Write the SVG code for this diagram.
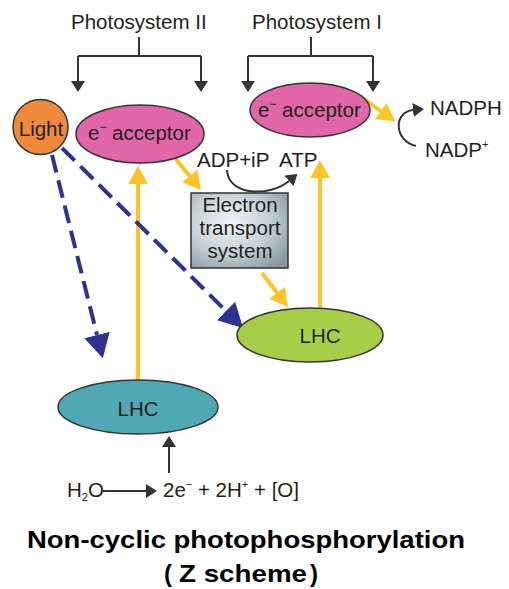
<svg xmlns="http://www.w3.org/2000/svg" width="509" height="589" viewBox="0 0 509 589">
<style>
text{font-family:"Liberation Sans",Arial,sans-serif;fill:#231F20;}
.lbl{font-size:20.5px;}
.mid{text-anchor:middle;}
.title{font-size:24px;font-weight:bold;fill:#000;}
.blk{stroke:#333;stroke-width:2;fill:none;}
.yel{stroke:#FFC425;stroke-width:4;fill:none;}
.blu{stroke:#2E3192;stroke-width:4;fill:none;stroke-dasharray:18 8;}
.node{stroke:#333;stroke-width:1.5;}
</style>
<defs>
<marker id="mk" markerUnits="userSpaceOnUse" markerWidth="12" markerHeight="14" refX="0" refY="7" orient="auto"><path d="M0,0 L11,7 L0,14 z" fill="#333"/></marker>
<marker id="my" markerUnits="userSpaceOnUse" markerWidth="19" markerHeight="20" refX="0" refY="10" orient="auto"><path d="M0,0 L18,10 L0,20 z" fill="#FFC425"/></marker>
<marker id="mb" markerUnits="userSpaceOnUse" markerWidth="25" markerHeight="26" refX="0" refY="13" orient="auto"><path d="M0,0 L24,13 L0,26 z" fill="#2E3192"/></marker>
<radialGradient id="ets" cx="0.4" cy="0.4" r="0.75"><stop offset="0" stop-color="#F2F5F7"/><stop offset="0.55" stop-color="#C4CFD5"/><stop offset="1" stop-color="#8797A1"/></radialGradient>
</defs>

<g id="connectors">
<path class="blk" d="M139,37 V56 M78,56 H201 M78,56 V81 M201,56 V81" />
<path class="blk" d="M78,70 V81" marker-end="url(#mk)"/>
<path class="blk" d="M201,70 V81" marker-end="url(#mk)"/>
<path class="blk" d="M311,37 V56 M248,56 H373 M248,56 V81 M373,56 V81"/>
<path class="blk" d="M248,70 V81" marker-end="url(#mk)"/>
<path class="blk" d="M373,70 V81" marker-end="url(#mk)"/>
<path class="yel" d="M138,380 V184" marker-end="url(#my)"/>
<path class="yel" d="M320,308 V178" marker-end="url(#my)"/>
<path class="yel" d="M175,158 L189.6,176" marker-end="url(#my)"/>
<path class="yel" d="M262,273 L277,292.7" marker-end="url(#my)"/>
<path class="yel" d="M360,96 L380.7,111" marker-end="url(#my)"/>
<path class="blu" d="M52,155 L97,335" marker-end="url(#mb)"/>
<path class="blu" d="M62,148 L226,311" marker-end="url(#mb)"/>
<path class="blk" d="M227,170 C228,196 270,197 289,181" marker-end="url(#mk)"/>
<path class="blk" d="M416,146 C394,141 393,112 413,110" marker-end="url(#mk)"/>
<path class="blk" d="M169,473 V447" marker-end="url(#mk)"/>
<path class="blk" d="M103,491 H146" marker-end="url(#mk)"/>
</g>

<g id="light">
<circle cx="40.5" cy="127" r="27.5" fill="#EE8A3C" class="node"/>
<text class="lbl mid" x="41" y="136">Light</text>
</g>

<g id="acceptor2">
<ellipse cx="140" cy="134" rx="64" ry="29" fill="#E066A8" class="node"/>
<text class="lbl" x="88" y="140">e<tspan font-size="12" dy="-9">−</tspan><tspan dy="9"> acceptor</tspan></text>
</g>

<g id="acceptor1">
<ellipse cx="310" cy="110" rx="60" ry="27" fill="#E066A8" class="node"/>
<text class="lbl" x="258" y="117">e<tspan font-size="12" dy="-9">−</tspan><tspan dy="9"> acceptor</tspan></text>
</g>

<g id="ps2"><text class="lbl" x="71" y="29">Photosystem II</text></g>
<g id="ps1"><text class="lbl" x="252" y="29">Photosystem I</text></g>

<g id="nadph"><text class="lbl" x="430" y="115">NADPH</text></g>
<g id="nadp"><text class="lbl" x="425" y="157">NADP<tspan font-size="11" dy="-9">+</tspan></text></g>

<g id="adp"><text class="lbl" x="197" y="167">ADP+iP</text></g>
<g id="atp"><text class="lbl" x="279" y="167">ATP</text></g>

<g id="ets-box">
<rect x="191" y="193" width="97" height="75" fill="url(#ets)" class="node"/>
<text class="lbl mid" x="240" y="212">Electron</text>
<text class="lbl mid" x="240" y="235">transport</text>
<text class="lbl mid" x="240" y="258">system</text>
</g>

<g id="lhc1">
<ellipse cx="310" cy="335" rx="73" ry="27" fill="#A8CE48" class="node"/>
<text class="lbl mid" x="320" y="343">LHC</text>
</g>

<g id="lhc2">
<ellipse cx="138" cy="407" rx="80" ry="27" fill="#50A8B4" class="node"/>
<text class="lbl mid" x="138" y="416">LHC</text>
</g>

<g id="water">
<text class="lbl" x="67" y="497">H<tspan font-size="11" dy="4">2</tspan><tspan dy="-4">O</tspan></text>
</g>
<g id="products">
<text class="lbl" x="163" y="497">2e<tspan font-size="11" dy="-9">−</tspan><tspan dy="9"> + 2H</tspan><tspan font-size="11" dy="-9">+</tspan><tspan dy="9"> + [O]</tspan></text>
</g>

<g id="title">
<text class="title" x="27" y="548" textLength="438" lengthAdjust="spacingAndGlyphs">Non-cyclic photophosphorylation</text>
<text class="title"><tspan x="164" y="582">(</tspan><tspan x="179" y="582" textLength="128" lengthAdjust="spacingAndGlyphs">Z scheme</tspan><tspan x="310" y="582">)</tspan></text>
</g>
</svg>
